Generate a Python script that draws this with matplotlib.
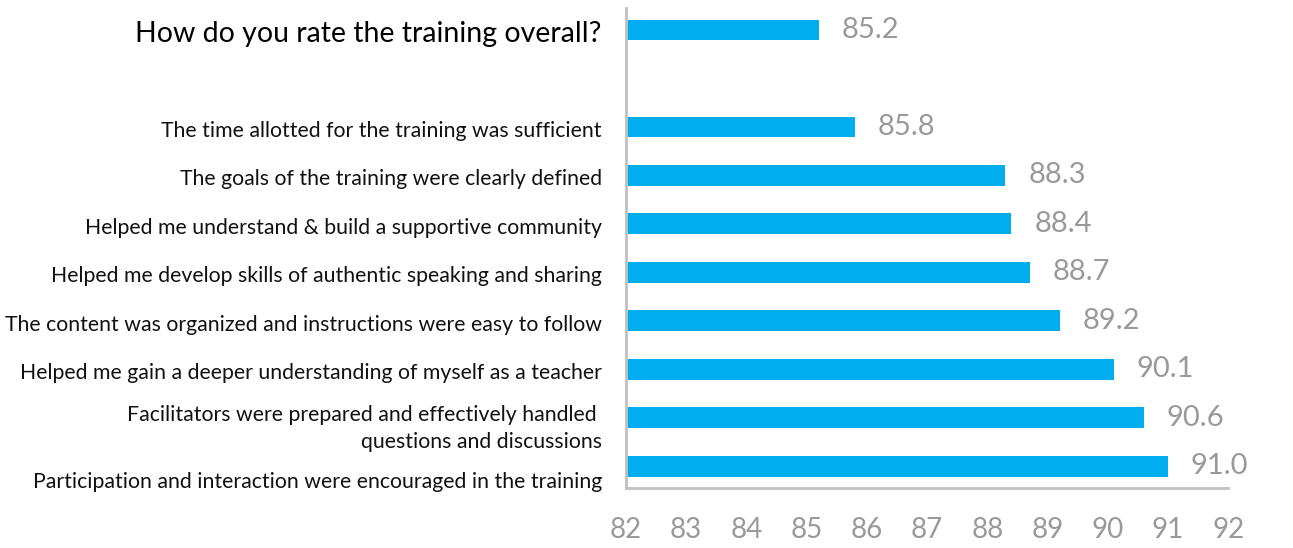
import matplotlib.pyplot as plt
import matplotlib.transforms as mtransforms

plt.rcParams["font.family"] = ["Lato", "DejaVu Sans"]

# survey items, top to bottom (slot 1 left empty as a spacer)
items = [
    "How do you rate the training overall?",
    "The time allotted for the training was sufficient",
    "The goals of the training were clearly defined",
    "Helped me understand & build a supportive community",
    "Helped me develop skills of authentic speaking and sharing",
    "The content was organized and instructions were easy to follow",
    "Helped me gain a deeper understanding of myself as a teacher",
    "Facilitators were prepared and effectively handled \nquestions and discussions",
    "Participation and interaction were encouraged in the training",
]
scores = [85.2, 85.8, 88.3, 88.4, 88.7, 89.2, 90.1, 90.6, 91.0]
slots = [0, 2, 3, 4, 5, 6, 7, 8, 9]
xticks = list(range(82, 93))

BAR = "#00aeef"
GREY = "#999999"
AXIS = "#c0c0c0"

fig = plt.figure(figsize=(12.93, 5.48), dpi=100)
ax = fig.add_axes([0.484, 0.1095, 0.466, 0.8755])

ax.barh(slots, [s - 82 for s in scores], left=82, height=0.43, color=BAR)
for y, s in zip(slots, scores):
    ax.text(s + 0.38, y, f"{s:.1f}", va="center", ha="left",
            fontsize=21, color=GREY)

ax.set_xlim(82, 92)
ax.set_ylim(9.45, -0.45)
ax.set_xticks(xticks)
ax.set_xticklabels([str(t) for t in xticks], fontsize=20, color=GREY)
ax.tick_params(axis="x", length=0, pad=21)
ax.set_yticks([])

# category labels sit just left of the axis; the last two drop a little lower
label_tf = mtransforms.blended_transform_factory(
    ax.transAxes, ax.transData) + mtransforms.ScaledTranslation(
    -24 / 100, -4 / 100, fig.dpi_scale_trans)
for i, (y, txt) in enumerate(zip(slots, items)):
    nudge = {7: 0.14, 8: 0.25}.get(i, 0)
    big = i == 0
    ax.text(0, y + nudge, txt, transform=label_tf, ha="right", va="center",
            multialignment="right", linespacing=1.45,
            fontsize=20.5 if big else 15.3,
            color="black" if big else "#111111")

for side in ("top", "right"):
    ax.spines[side].set_visible(False)
for side in ("left", "bottom"):
    ax.spines[side].set_color(AXIS)
    ax.spines[side].set_linewidth(2)

fig.savefig("out.png", dpi=100)
